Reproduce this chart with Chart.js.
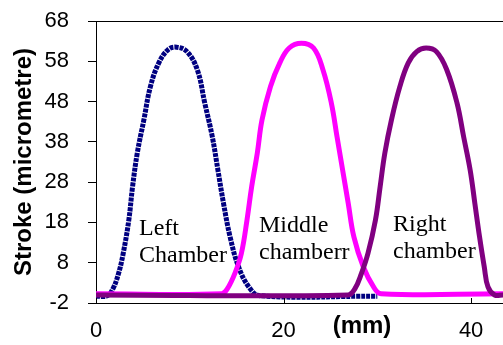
<!DOCTYPE html>
<html>
<head>
<meta charset="utf-8">
<script src="https://cdn.jsdelivr.net/npm/chart.js@4.4.1/dist/chart.umd.min.js"></script>
<style>
  html, body { margin: 0; padding: 0; background: #fff; }
</style>
</head>
<body>
<canvas id="chart" width="503" height="345"></canvas>
<script>
// position along the pump (mm) and stroke (micrometre)
const leftPos    = [0, 1.2, 1.8, 2.4, 2.9, 3.5, 3.9, 4.4, 5.1, 5.8, 6.7, 7.7, 8.6, 9.7, 10.8, 11.6, 12.4, 13.0, 13.6, 14.3, 15.2, 16.3, 17.5, 30];
const leftStroke = [-0.3, -0.2, 1.5, 5.3, 10.3, 18.6, 26.9, 35.2, 43.4, 51.7, 57.6, 60.9, 61.5, 60.4, 55.9, 47.6, 39.3, 31, 22.7, 14.4, 7, 2, -0.2, -0.3];

const middlePos    = [0, 13.4, 14.0, 14.8, 15.5, 16.1, 16.6, 17.2, 17.7, 18.6, 19.6, 20.6, 21.9, 23.2, 24.2, 25.1, 25.7, 26.3, 26.9, 27.5, 28.5, 29.6, 30.4, 43.4];
const middleStroke = [0.3, 0.3, 1.5, 5.3, 10.3, 18.6, 26.9, 35.2, 43.4, 51.7, 57.6, 61.3, 62.5, 61.3, 55.9, 47.6, 39.3, 31, 22.7, 14.4, 7, 2, 0.3, 0.3];

const rightPos    = [0, 26.9, 27.6, 28.3, 29.0, 29.8, 30.3, 30.8, 31.5, 32.4, 33.3, 34.2, 35.2, 36.3, 37.4, 38.5, 39.2, 39.9, 40.4, 40.9, 41.4, 41.8, 42.5, 43.4];
const rightStroke = [0, 0, 1.5, 5.3, 10.3, 18.6, 26.9, 35.2, 43.4, 51.7, 57.6, 60.4, 61.3, 60.4, 55.9, 47.6, 39.3, 31, 22.7, 14.4, 7, 2, 0, 0];

const yTicks = [-2, 8, 18, 28, 38, 48, 58, 68];
const xTicks = [0, 20, 40];
const chamberNames = [["Left", "Chamber"], ["Middle", "chamberr"], ["Right", "chamber"]];

const toPoints = (xs, ys) => xs.map((x, i) => ({ x: x, y: ys[i] }));

const sans = '"Liberation Sans", Arial, sans-serif';
const serif = '"Liberation Serif", "Times New Roman", serif';

// frame top, inward x ticks, "(mm)" and the chamber names
const extras = {
    id: 'extras',
    afterDraw(chart) {
        const { ctx, chartArea: a, scales: { x } } = chart;
        ctx.save();
        ctx.strokeStyle = '#000';
        ctx.lineWidth = 1;
        ctx.beginPath();
        ctx.moveTo(a.left, a.top + 0.5);
        ctx.lineTo(a.right, a.top + 0.5);
        x.ticks.forEach(t => {
            const px = Math.round(x.getPixelForValue(t.value)) + 0.5;
            ctx.moveTo(px, a.bottom);
            ctx.lineTo(px, a.bottom - 5);
        });
        ctx.stroke();

        ctx.fillStyle = '#000';
        ctx.font = 'bold 24px ' + sans;
        ctx.textAlign = 'center';
        ctx.textBaseline = 'alphabetic';
        ctx.fillText('(mm)', 362, 333);

        ctx.font = '24px ' + serif;
        ctx.textAlign = 'left';
        const spots = [[139, 235], [259, 232], [393, 231]];
        chamberNames.forEach((lines, i) => {
            lines.forEach((s, j) => ctx.fillText(s, spots[i][0], spots[i][1] + j * 27));
        });
        ctx.restore();
    }
};

new Chart(document.getElementById('chart'), {
    type: 'line',
    data: {
        datasets: [
            {
                label: 'Left chamber',
                data: toPoints(leftPos, leftStroke),
                borderColor: '#000080',
                borderWidth: 5,
                borderDash: [4, 1],
                order: 3
            },
            {
                label: 'Middle chamber',
                data: toPoints(middlePos, middleStroke),
                borderColor: '#ff00ff',
                borderWidth: 5,
                order: 2
            },
            {
                label: 'Right chamber',
                data: toPoints(rightPos, rightStroke),
                borderColor: '#800080',
                borderWidth: 5,
                order: 1
            }
        ]
    },
    options: {
        responsive: false,
        animation: false,
        layout: { padding: { left: 0, top: 21, right: 0, bottom: 0 } },
        elements: {
            point: { radius: 0 },
            line: { tension: 0.4, fill: false }
        },
        plugins: { legend: { display: false }, tooltip: { enabled: false } },
        scales: {
            x: {
                type: 'linear',
                min: 0,
                max: 43.4,
                afterBuildTicks: s => { s.ticks = xTicks.map(v => ({ value: v })); },
                afterFit: s => { s.height = 42; s.paddingLeft = 0; s.paddingRight = 0; },
                grid: { display: false, drawTicks: false, tickLength: 0 },
                border: { display: true, color: '#000', width: 1 },
                ticks: { color: '#000', padding: 15, maxRotation: 0, font: { family: sans, size: 22 } }
            },
            y: {
                min: -2,
                max: 68,
                afterBuildTicks: s => { s.ticks = yTicks.map(v => ({ value: v })); },
                afterFit: s => { s.width = 96; s.paddingTop = 0; s.paddingBottom = 0; },
                grid: { drawOnChartArea: false, drawTicks: true, tickLength: 8, color: '#000' },
                border: { display: true, color: '#000', width: 1 },
                ticks: { color: '#000', padding: 19, font: { family: sans, size: 22 } },
                title: {
                    display: true,
                    text: 'Stroke (micrometre)',
                    color: '#000',
                    padding: { top: 10, bottom: 0 },
                    font: { family: sans, size: 24, weight: 'bold' }
                }
            }
        }
    },
    plugins: [extras]
});
</script>
</body>
</html>
